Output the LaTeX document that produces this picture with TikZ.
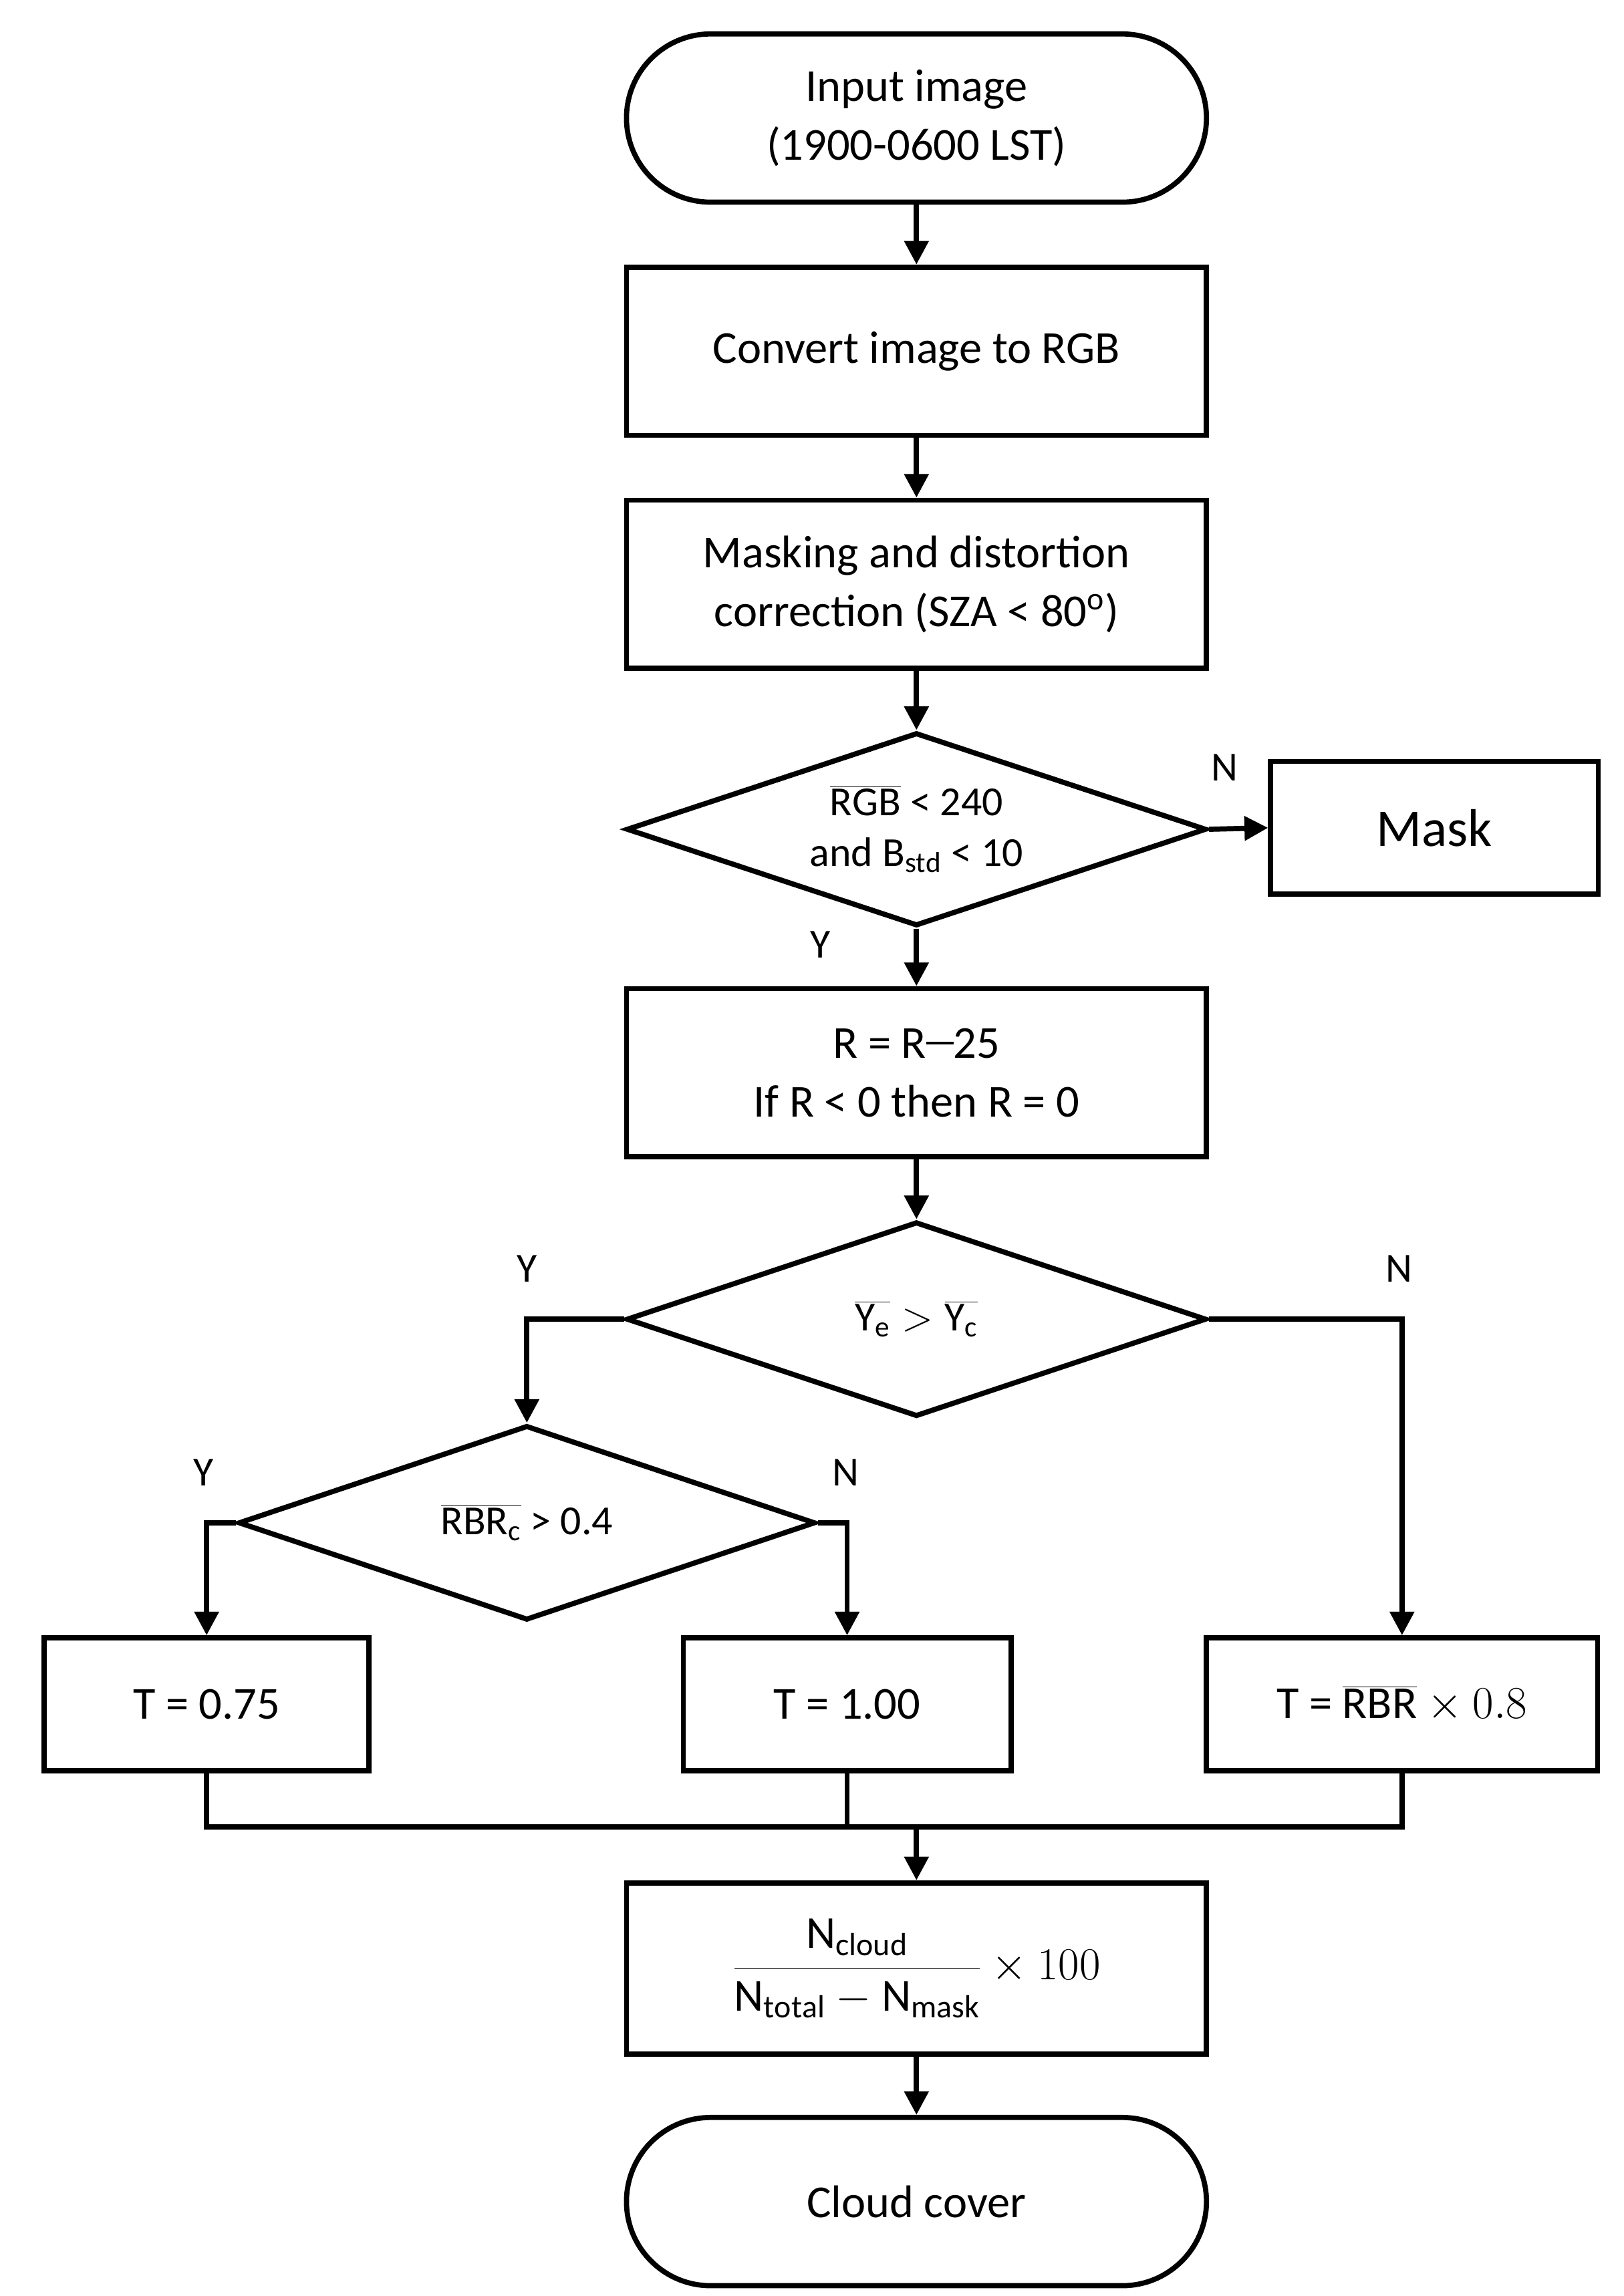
\RequirePackage{fix-cm}
\documentclass[tikz,border=0pt]{standalone}
\usepackage{fontspec}
\setmainfont{Carlito}
\usetikzlibrary{arrows.meta,shapes.geometric}
\begin{document}
\begin{tikzpicture}[x=1pt,y=-1pt,
  ln/.style={line width=3.5pt},
  ar/.style={ln,-{Triangle[length=16pt,width=16pt]}},
  box/.style={draw,line width=3.5pt,minimum width=393pt,minimum height=114pt,align=center,font=\fontsize{31}{40}\selectfont},
  tbox/.style={draw,line width=3.5pt,minimum height=90pt,align=center,font=\fontsize{31}{40}\selectfont},
  term/.style={box,rounded corners=57pt},
  dia/.style={draw,line width=3.5pt,diamond,aspect=3,inner sep=0pt,align=center,font=\fontsize{28}{34}\selectfont},
  lab/.style={font=\fontsize{28}{34}\selectfont}]
\fill[white] (0,0) rectangle (1100,1556);
\node[term] (in) at (621,80) {Input image\\(1900-0600 LST)};
\node[box] (conv) at (621,238) {Convert image to RGB};
\node[box] (mk) at (621,396) {Masking and distortion\\correction (SZA < 80$^{\mathrm{o}}$)};
\node[dia,minimum width=393pt,minimum height=131pt] (d1) at (621,562) {$\overline{\mathrm{RGB}}$ < 240\\and B$_{\mathrm{std}}$ < 10};
\node[tbox,minimum width=222pt,font=\fontsize{36}{40}\selectfont] (mask) at (972,561) {Mask};
\node[box] (r) at (621,727) {R = R\rule[0.3em]{0.6em}{1.5pt}25\\If R < 0 then R = 0};
\node[dia,minimum width=393pt,minimum height=132pt] (d2) at (621,894) {$\overline{\mathrm{Y}_{\mathrm e}}>\overline{\mathrm{Y}_{\mathrm c}}$};
\node[dia,minimum width=391pt,minimum height=132pt] (d3) at (357,1032) {$\overline{\mathrm{RBR}_{\mathrm c}}$ > 0.4};
\node[tbox,minimum width=220pt] (t1) at (140,1155) {T = 0.75};
\node[tbox,minimum width=222pt] (t2) at (574,1155) {T = 1.00};
\node[tbox,minimum width=265pt] (t3) at (950,1155) {T = $\overline{\mathrm{RBR}}\times 0.8$};
\node[box,minimum height=116pt] (f) at (621,1334) {$\displaystyle\frac{\mathrm{N_{cloud}}}{\mathrm{N_{total}-N_{mask}}}\times 100$};
\node[term] (cc) at (621,1492) {Cloud cover};
\coordinate (j) at (621,1238);
\draw[ar] (in) -- (conv);
\draw[ar] (conv) -- (mk);
\draw[ar] (mk) -- (d1);
\draw[ar] (d1.east) -- (mask.west);
\draw[ar] (d1.south) -- (r.north);
\draw[ar] (r) -- (d2.north);
\draw[ar] (d2.west) -| (d3.north);
\draw[ar] (d2.east) -| (t3.north);
\draw[ar] (d3.west) -| (t1.north);
\draw[ar] (d3.east) -| (t2.north);
\draw[ln] (t1.south) |- (j);
\draw[ln] (t3.south) |- (j);
\draw[ln] (t2.south) |- (j);
\draw[ar] (j) -- (f.north);
\draw[ar] (f) -- (cc);
\node[lab] at (830,520) {N};
\node[lab] at (556,640) {Y};
\node[lab] at (357,860) {Y};
\node[lab] at (948,860) {N};
\node[lab] at (138,998) {Y};
\node[lab] at (573,998) {N};
\end{tikzpicture}
\end{document}
